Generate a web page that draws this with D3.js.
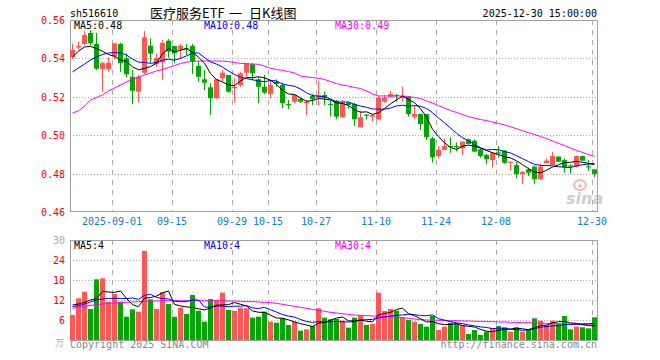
<!DOCTYPE html>
<html><head><meta charset="utf-8">
<script src="https://cdn.jsdelivr.net/npm/d3@7/dist/d3.min.js"></script>
<style>body{margin:0;background:#fff}svg{display:block}</style>
</head><body><svg id="c" width="660" height="360"></svg>
<script>
// ---------- data ----------
const dates = [
 "2025-08-21","2025-08-22","2025-08-25","2025-08-26","2025-08-27","2025-08-28","2025-08-29",
 "2025-09-01","2025-09-02","2025-09-03","2025-09-04","2025-09-05","2025-09-08","2025-09-09","2025-09-10","2025-09-11","2025-09-12",
 "2025-09-15","2025-09-16","2025-09-17","2025-09-18","2025-09-19","2025-09-22","2025-09-23","2025-09-24","2025-09-25","2025-09-26",
 "2025-09-29","2025-09-30",
 "2025-10-09","2025-10-10","2025-10-13","2025-10-14","2025-10-15","2025-10-16","2025-10-17","2025-10-20","2025-10-21","2025-10-22",
 "2025-10-23","2025-10-24","2025-10-27","2025-10-28","2025-10-29","2025-10-30","2025-10-31",
 "2025-11-03","2025-11-04","2025-11-05","2025-11-06","2025-11-07","2025-11-10","2025-11-11","2025-11-12","2025-11-13","2025-11-14",
 "2025-11-17","2025-11-18","2025-11-19","2025-11-20","2025-11-21","2025-11-24","2025-11-25","2025-11-26","2025-11-27","2025-11-28",
 "2025-12-01","2025-12-02","2025-12-03","2025-12-04","2025-12-05","2025-12-08","2025-12-09","2025-12-10","2025-12-11","2025-12-12",
 "2025-12-15","2025-12-16","2025-12-17","2025-12-18","2025-12-19","2025-12-22","2025-12-23","2025-12-24","2025-12-25","2025-12-26",
 "2025-12-29","2025-12-30"];

const open = [0.541,0.546,0.5478,0.5535,0.5478,0.5347,0.5347,0.5412,0.5478,0.5403,
 0.5307,0.5229,0.5328,0.5469,0.5373,0.5382,0.5495,0.5467,0.5448,0.5455,
 0.5467,0.5363,0.5294,0.5252,0.5195,0.5299,0.5316,0.5247,0.5264,0.5328,
 0.5372,0.5294,0.5255,0.5217,0.5281,0.5264,0.5165,0.5177,0.5191,0.5169,
 0.5207,0.5195,0.5212,0.5165,0.5182,0.5096,0.5172,0.5165,0.5044,0.511,
 0.5099,0.5085,0.5177,0.5203,0.5212,0.5198,0.5203,0.5099,0.5113,0.5113,
 0.4986,0.4894,0.4926,0.4946,0.4946,0.4934,0.4981,0.4974,0.4929,0.49,
 0.4873,0.4913,0.4922,0.4863,0.4847,0.48,0.4825,0.4839,0.4773,0.4857,
 0.4847,0.4891,0.4873,0.4845,0.4839,0.4894,0.4841,0.4825];
const high = [0.548,0.549,0.5545,0.555,0.5536,0.5385,0.5408,0.5484,0.5484,0.5429,
 0.5342,0.5316,0.5545,0.5507,0.5429,0.5498,0.5504,0.5467,0.5478,0.5478,
 0.5478,0.5389,0.5342,0.5274,0.5294,0.5342,0.5316,0.5299,0.5333,0.538,
 0.538,0.5307,0.5316,0.5286,0.5294,0.5276,0.5186,0.5217,0.5198,0.5186,
 0.5217,0.5286,0.523,0.5186,0.5186,0.5186,0.5177,0.5172,0.513,0.5113,
 0.5113,0.5207,0.5212,0.5233,0.5217,0.5255,0.5207,0.5155,0.5113,0.5113,
 0.4995,0.4946,0.4986,0.4992,0.4965,0.4971,0.4986,0.4979,0.4932,0.4904,
 0.4915,0.4946,0.4924,0.4865,0.4864,0.4815,0.4834,0.4845,0.4853,0.4882,
 0.4917,0.4894,0.4881,0.4853,0.4897,0.4897,0.4873,0.4825];
const low = [0.540,0.545,0.5472,0.547,0.5342,0.5228,0.5333,0.5398,0.5333,0.5304,
 0.5164,0.5174,0.5321,0.538,0.5359,0.529,0.5406,0.5377,0.5403,0.542,
 0.5321,0.5281,0.5238,0.5108,0.5193,0.5285,0.5224,0.5172,0.5255,0.5307,
 0.529,0.5169,0.5217,0.5195,0.5255,0.5143,0.5138,0.517,0.517,0.5108,
 0.516,0.516,0.516,0.5099,0.5085,0.5094,0.514,0.5051,0.5042,0.5085,
 0.5073,0.5083,0.5172,0.52,0.5177,0.5177,0.5099,0.5085,0.503,0.4978,
 0.486,0.4882,0.4924,0.4911,0.4918,0.4899,0.4955,0.4915,0.4885,0.4853,
 0.4835,0.4885,0.4853,0.4818,0.4778,0.4748,0.479,0.4748,0.477,0.4855,
 0.4847,0.4862,0.4807,0.4804,0.4834,0.4868,0.4818,0.4783];
const close = [0.5447,0.5467,0.5524,0.5481,0.5349,0.5378,0.538,0.5481,0.5377,0.532,
 0.5234,0.5307,0.5512,0.5427,0.5406,0.5484,0.5438,0.5429,0.5469,0.545,
 0.5389,0.5307,0.5276,0.5195,0.5294,0.5328,0.5229,0.5255,0.5325,0.5377,
 0.5325,0.5255,0.5224,0.5264,0.5269,0.5169,0.516,0.5212,0.5177,0.5177,
 0.519,0.5212,0.5195,0.516,0.5099,0.5172,0.516,0.5085,0.5096,0.5108,
 0.5108,0.5198,0.5198,0.5217,0.521,0.5207,0.5113,0.5113,0.5061,0.4992,
 0.4888,0.4926,0.4946,0.4943,0.4941,0.4969,0.4957,0.4917,0.4894,0.4877,
 0.4911,0.4911,0.4859,0.4865,0.48,0.4812,0.4807,0.4773,0.4839,0.487,
 0.4894,0.4865,0.4835,0.4843,0.4894,0.487,0.4838,0.4801];
// volume, 万手
const volume = [7.5,12.5,14.5,9.3,18.2,18.5,11.5,13.8,11.5,7,
 9.2,8.5,26.7,12.2,9.3,14.3,10.8,7,9.7,7.8,
 13.5,8.8,5.5,12.3,12,14.2,9,8.7,9.7,9.5,
 6.7,7,8.5,5.5,5.2,6.5,4.5,5.5,2.8,3.2,
 4.2,9.5,6.7,6.2,6.3,5.8,3.7,6.7,7.5,4.5,
 4.8,14.2,8.7,9.3,8.8,6.8,6,5.5,4.8,4,
 7.2,3,4,5.2,5,4.5,1.8,3,1.5,2.5,
 3.5,4.2,3.8,2.5,3.8,2.5,3,6.5,5.8,4.5,
 5.8,4.8,7.2,3.2,4,3.8,3.5,6.8];
const ma5Head = [0.541,0.5441,0.5462,0.5465];
const ma10Head = [0.5332,0.5353,0.5373,0.5394,0.541,0.5423,0.5431,0.5433,0.5431];
const ma30 = [0.5118,0.5129,0.5155,0.5186,0.5199,0.5212,0.5233,0.5248,0.5264,0.528,
 0.5295,0.5306,0.5316,0.5327,0.5337,0.5345,0.5355,0.5366,0.5376,0.5384,
 0.5386,0.5389,0.5389,0.5389,0.5389,0.5389,0.5386,0.5381,0.5377,0.5375,
 0.5373,0.5372,0.5363,0.5351,0.5345,0.534,0.5334,0.5327,0.5311,0.5306,
 0.5303,0.5299,0.5293,0.5282,0.5272,0.5264,0.5259,0.5251,0.5246,0.5233,
 0.5217,0.5207,0.5207,0.5207,0.5207,0.5207,0.5204,0.5199,0.5194,0.5181,
 0.517,0.5157,0.5144,0.5131,0.5121,0.511,0.51,0.5092,0.5084,0.5079,
 0.5071,0.5064,0.5056,0.5047,0.5036,0.5026,0.5016,0.5006,0.4996,0.4985,
 0.4973,0.496,0.4949,0.4936,0.4923,0.4913,0.4902,0.4892];
const volMa5Head = [10.5,10.8,11.3,12.0];
const volMa10Head = [10,10.3,10.8,11.4,12.0,12.3,12.5,12.5,12.5];
const volMa30 = [9.5,9.8,10.1,10.4,10.6,10.8,11.0,11.1,11.2,11.3,
 11.4,11.5,11.6,11.7,11.7,11.8,11.8,11.8,11.8,11.8,
 11.8,11.8,11.8,11.8,11.8,11.8,11.7,11.7,11.6,11.5,
 11.5,11.4,11.3,11.2,11.0,10.7,10.4,10.1,9.8,9.5,
 9.2,8.9,8.6,8.3,8.1,7.9,7.7,7.5,7.4,7.3,
 7.2,7.1,7.0,7.0,6.9,6.7,6.5,6.3,6.1,6.0,
 6.0,5.9,5.9,5.8,5.8,5.7,5.7,5.6,5.6,5.5,
 5.5,5.4,5.4,5.3,5.3,5.2,5.2,5.1,5.0,5.0,
 4.9,4.9,4.8,4.7,4.7,4.6,4.6,4.5];
const priceTicks = [0.56,0.54,0.52,0.50,0.48,0.46];
const volTicks = [30,24,18,12,6];
const xTickDates = ["2025-09-01","2025-09-15","2025-09-29","2025-10-15","2025-10-27","2025-11-10","2025-11-24","2025-12-08","2025-12-30"];
const xTickLabels = ["2025-09-01","09-15","09-29","10-15","10-27","11-10","11-24","12-08","12-30"];
const priceMaLabels = ["MA5:0.48","MA10:0.48","MA30:0.49"];
const volMaLabels = ["MA5:4","MA10:4","MA30:4"];
const symbol = "sh516610";
const titleParts = ["医疗服务ETF", "一", "日K线图"];
const stamp = "2025-12-30 15:00:00";

// ---------- helpers ----------
function movingAvg(arr, n, head) {
  return arr.map((v, i) => i < n - 1 ? head[i] : d3.mean(arr.slice(i - n + 1, i + 1)));
}
const ma5 = movingAvg(close, 5, ma5Head);
const ma10 = movingAvg(close, 10, ma10Head);
const volMa5 = movingAvg(volume, 5, volMa5Head);
const volMa10 = movingAvg(volume, 10, volMa10Head);

const RED = "#ff5656", GREEN = "#06a506", GRID = "#aaaaaa", FRAME = "#a0a0a0";
const MONO = "'DejaVu Sans Mono', 'Liberation Mono', monospace";

const svg = d3.select("#c");
const L = 70, R = 598;
const x = d3.scaleBand().domain(dates).range([L, R]).padding(0);
const bw = x.bandwidth() - 1;
const cx = d => x(d) + bw / 2;
const y = d3.scaleLinear().domain([0.46, 0.56]).range([212.5, 20.5]);
const yv = d3.scaleLinear().domain([0, 30]).range([340, 240]);
const crisp = v => Math.floor(v) + 0.5;

// ---------- header ----------
svg.append("text").attr("x", 70).attr("y", 17).attr("font-family", MONO).attr("font-size", 10)
  .attr("fill", "#000").text(symbol);
const titleX = [150, 229, 249];
titleParts.forEach((t, k) => svg.append("text").attr("x", titleX[k]).attr("y", 17.5)
  .attr("font-family", "'Noto Sans CJK SC', sans-serif").attr("font-size", 13).attr("fill", "#000").text(t));
svg.append("text").attr("x", 597).attr("y", 17).attr("text-anchor", "end").attr("font-family", MONO)
  .attr("font-size", 10).attr("fill", "#000").text(stamp);

// ---------- grids ----------
function panel(top, bottom, yScale, ticks) {
  const g = svg.append("g");
  g.selectAll("line.h").data(ticks).enter().append("line")
    .attr("x1", L).attr("x2", R).attr("y1", d => crisp(yScale(d))).attr("y2", d => crisp(yScale(d)))
    .attr("stroke", GRID).attr("stroke-dasharray", "1,2");
  g.selectAll("line.v").data(xTickDates).enter().append("line")
    .attr("x1", d => x(d) + 0.5).attr("x2", d => x(d) + 0.5).attr("y1", top).attr("y2", bottom)
    .attr("stroke", GRID).attr("stroke-dasharray", "5,5");
  return g;
}
panel(20, 212, y, [0.54, 0.52, 0.50, 0.48]);
panel(240, 340, yv, [24, 18, 12, 6]);

// sina watermark
const wm = svg.append("g");
wm.append("ellipse").attr("cx", 580).attr("cy", 185).attr("rx", 6).attr("ry", 5)
  .attr("fill", "none").attr("stroke", "#f2b8b8").attr("stroke-width", 2);
wm.append("circle").attr("cx", 580).attr("cy", 186).attr("r", 1.8).attr("fill", "#f2b8b8");
wm.append("text").attr("x", 566).attr("y", 204).attr("font-family", "'DejaVu Sans', sans-serif")
  .attr("font-size", 16).attr("font-weight", "bold").attr("font-style", "italic").attr("fill", "#cfcfcf").text("sina");

// ---------- frames ----------
svg.append("rect").attr("x", 70.5).attr("y", 20.5).attr("width", 527).attr("height", 191)
  .attr("fill", "none").attr("stroke", FRAME);
svg.append("rect").attr("x", 70.5).attr("y", 240.5).attr("width", 527).attr("height", 100)
  .attr("fill", "none").attr("stroke", FRAME);

// ---------- candles ----------
const idx = d3.range(dates.length);
const up = i => close[i] >= open[i];
const cg = svg.append("g");
cg.selectAll("line").data(idx).enter().append("line")
  .attr("x1", i => cx(dates[i])).attr("x2", i => cx(dates[i]))
  .attr("y1", i => y(high[i])).attr("y2", i => y(low[i]))
  .attr("stroke", i => up(i) ? RED : GREEN);
cg.selectAll("rect").data(idx).enter().append("rect")
  .attr("x", i => x(dates[i])).attr("width", bw)
  .attr("y", i => y(Math.max(open[i], close[i])))
  .attr("height", i => Math.max(1.2, Math.abs(y(open[i]) - y(close[i]))))
  .attr("fill", i => up(i) ? RED : GREEN);

// ---------- volume ----------
svg.append("g").selectAll("rect").data(idx).enter().append("rect")
  .attr("x", i => x(dates[i])).attr("width", bw)
  .attr("y", i => yv(volume[i])).attr("height", i => 340 - yv(volume[i]))
  .attr("fill", i => up(i) ? RED : GREEN);

// ---------- MA lines ----------
function maLine(vals, ys, color) {
  const line = d3.line().x((v, i) => cx(dates[i])).y(v => ys(v));
  svg.append("path").datum(vals).attr("d", line).attr("fill", "none")
    .attr("stroke", color).attr("stroke-width", 1);
}
maLine(ma30, y, "#ff00ff");
maLine(ma10, y, "#0000ff");
maLine(ma5, y, "#000000");
maLine(volMa30, yv, "#ff00ff");
maLine(volMa10, yv, "#0000ff");
maLine(volMa5, yv, "#000000");

// ---------- labels ----------
const maColors = ["#000000", "#0000ff", "#ff00ff"];
const maX = [74, 204, 335];
priceMaLabels.forEach((t, k) => svg.append("text").attr("x", maX[k]).attr("y", 29)
  .attr("font-family", MONO).attr("font-size", 10).attr("fill", maColors[k]).text(t));
volMaLabels.forEach((t, k) => svg.append("text").attr("x", maX[k]).attr("y", 249)
  .attr("font-family", MONO).attr("font-size", 10).attr("fill", maColors[k]).text(t));

svg.append("g").selectAll("text").data(priceTicks).enter().append("text")
  .attr("x", 65).attr("y", d => y(d) + 3.5).attr("text-anchor", "end")
  .attr("font-family", MONO).attr("font-size", 10).attr("fill", "#ff0000").text(d => d.toFixed(2));
svg.append("g").selectAll("text").data(volTicks).enter().append("text")
  .attr("x", 65).attr("y", d => yv(d) + 3.5).attr("text-anchor", "end")
  .attr("font-family", MONO).attr("font-size", 10).attr("fill", d => d === 30 ? "#aaaaaa" : "#ff0000").text(d => d);
svg.append("text").attr("x", 64).attr("y", 346).attr("text-anchor", "end")
  .attr("font-family", "'Noto Sans CJK SC', sans-serif").attr("font-size", 9).attr("fill", "#aaaaaa").text("万");

svg.append("g").selectAll("text").data(xTickDates).enter().append("text")
  .attr("x", d => x(d)).attr("y", 225).attr("text-anchor", "middle")
  .attr("font-family", MONO).attr("font-size", 10).attr("fill", "#0a80d0")
  .text((d, k) => xTickLabels[k]);

svg.append("text").attr("x", 70).attr("y", 348).attr("font-family", MONO).attr("font-size", 10)
  .attr("fill", "#888888").text("Copyright 2025 SINA.COM");
svg.append("text").attr("x", 597).attr("y", 348).attr("text-anchor", "end").attr("font-family", MONO)
  .attr("font-size", 10).attr("fill", "#888888").text("http://finance.sina.com.cn");
</script>
</body></html>
